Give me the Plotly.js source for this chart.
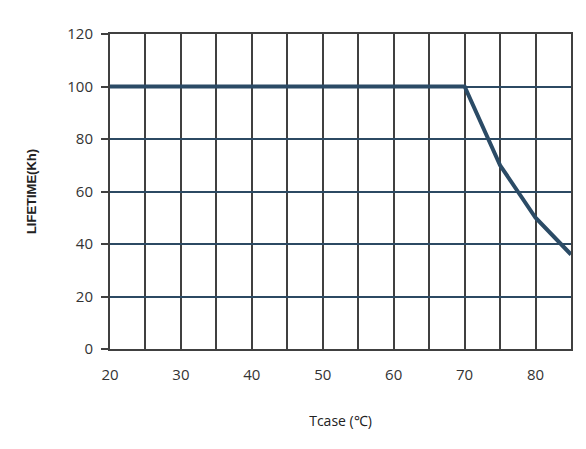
<!DOCTYPE html>
<html>
<head>
<meta charset="utf-8">
<script src="https://cdn.plot.ly/plotly-3.0.1.min.js"></script>
<style>
  html, body { margin: 0; padding: 0; background: #fff; }
  #myDiv { width: 586px; height: 449px; }
</style>
</head>
<body>
<div id="myDiv"></div>
<script>
// Tcase (°C) vs lifetime (Kh)
const tcase = [20, 70, 75, 80, 85];
const lifetime = [100, 100, 70, 50, 36];

const xTicks = [20, 25, 30, 35, 40, 45, 50, 55, 60, 65, 70, 75, 80, 85];
const xTickText = ['20', '', '30', '', '40', '', '50', '', '60', '', '70', '', '80', ''];
const yTicks = [0, 20, 40, 60, 80, 100, 120];

const gray = '#404040';
const blue = '#2c4a63';

const curva = {
  x: tcase,
  y: lifetime,
  type: 'scatter',
  mode: 'lines',
  line: { color: '#2b4b66', width: 4 },
  hoverinfo: 'x+y'
};

var layout = {
  width: 586,
  height: 449,
  margin: { l: 110, r: 14.5, t: 34, b: 100 },
  paper_bgcolor: '#fff',
  plot_bgcolor: '#fff',
  showlegend: false,
  font: { family: '"Open Sans", sans-serif', size: 15, color: '#333' },
  xaxis: {
    range: [20, 85],
    tickvals: xTicks,
    ticktext: xTickText,
    ticks: '',
    ticklabelstandoff: 11,
    showgrid: true,
    gridcolor: gray,
    gridwidth: 2,
    showline: true,
    linecolor: gray,
    linewidth: 2,
    mirror: true,
    zeroline: false,
    title: {
      text: 'Tcase (℃)',
      font: { family: '"Open Sans", sans-serif', size: 14, color: '#222' },
      standoff: 33
    }
  },
  yaxis: {
    range: [0, 120],
    tickvals: yTicks,
    ticks: 'outside',
    ticklen: 7,
    tickwidth: 2,
    tickcolor: gray,
    ticklabelstandoff: 5,
    showgrid: true,
    gridcolor: blue,
    gridwidth: 2,
    showline: true,
    linecolor: gray,
    linewidth: 2,
    mirror: true,
    zeroline: false,
    title: {
      text: '<b>LIFETIME(Kh)</b>',
      font: { family: '"Liberation Sans", Arial, sans-serif', size: 13, color: '#222' },
      standoff: 28
    }
  }
};

Plotly.newPlot('myDiv', [curva], layout, { displayModeBar: false, staticPlot: true });
</script>
</body>
</html>
